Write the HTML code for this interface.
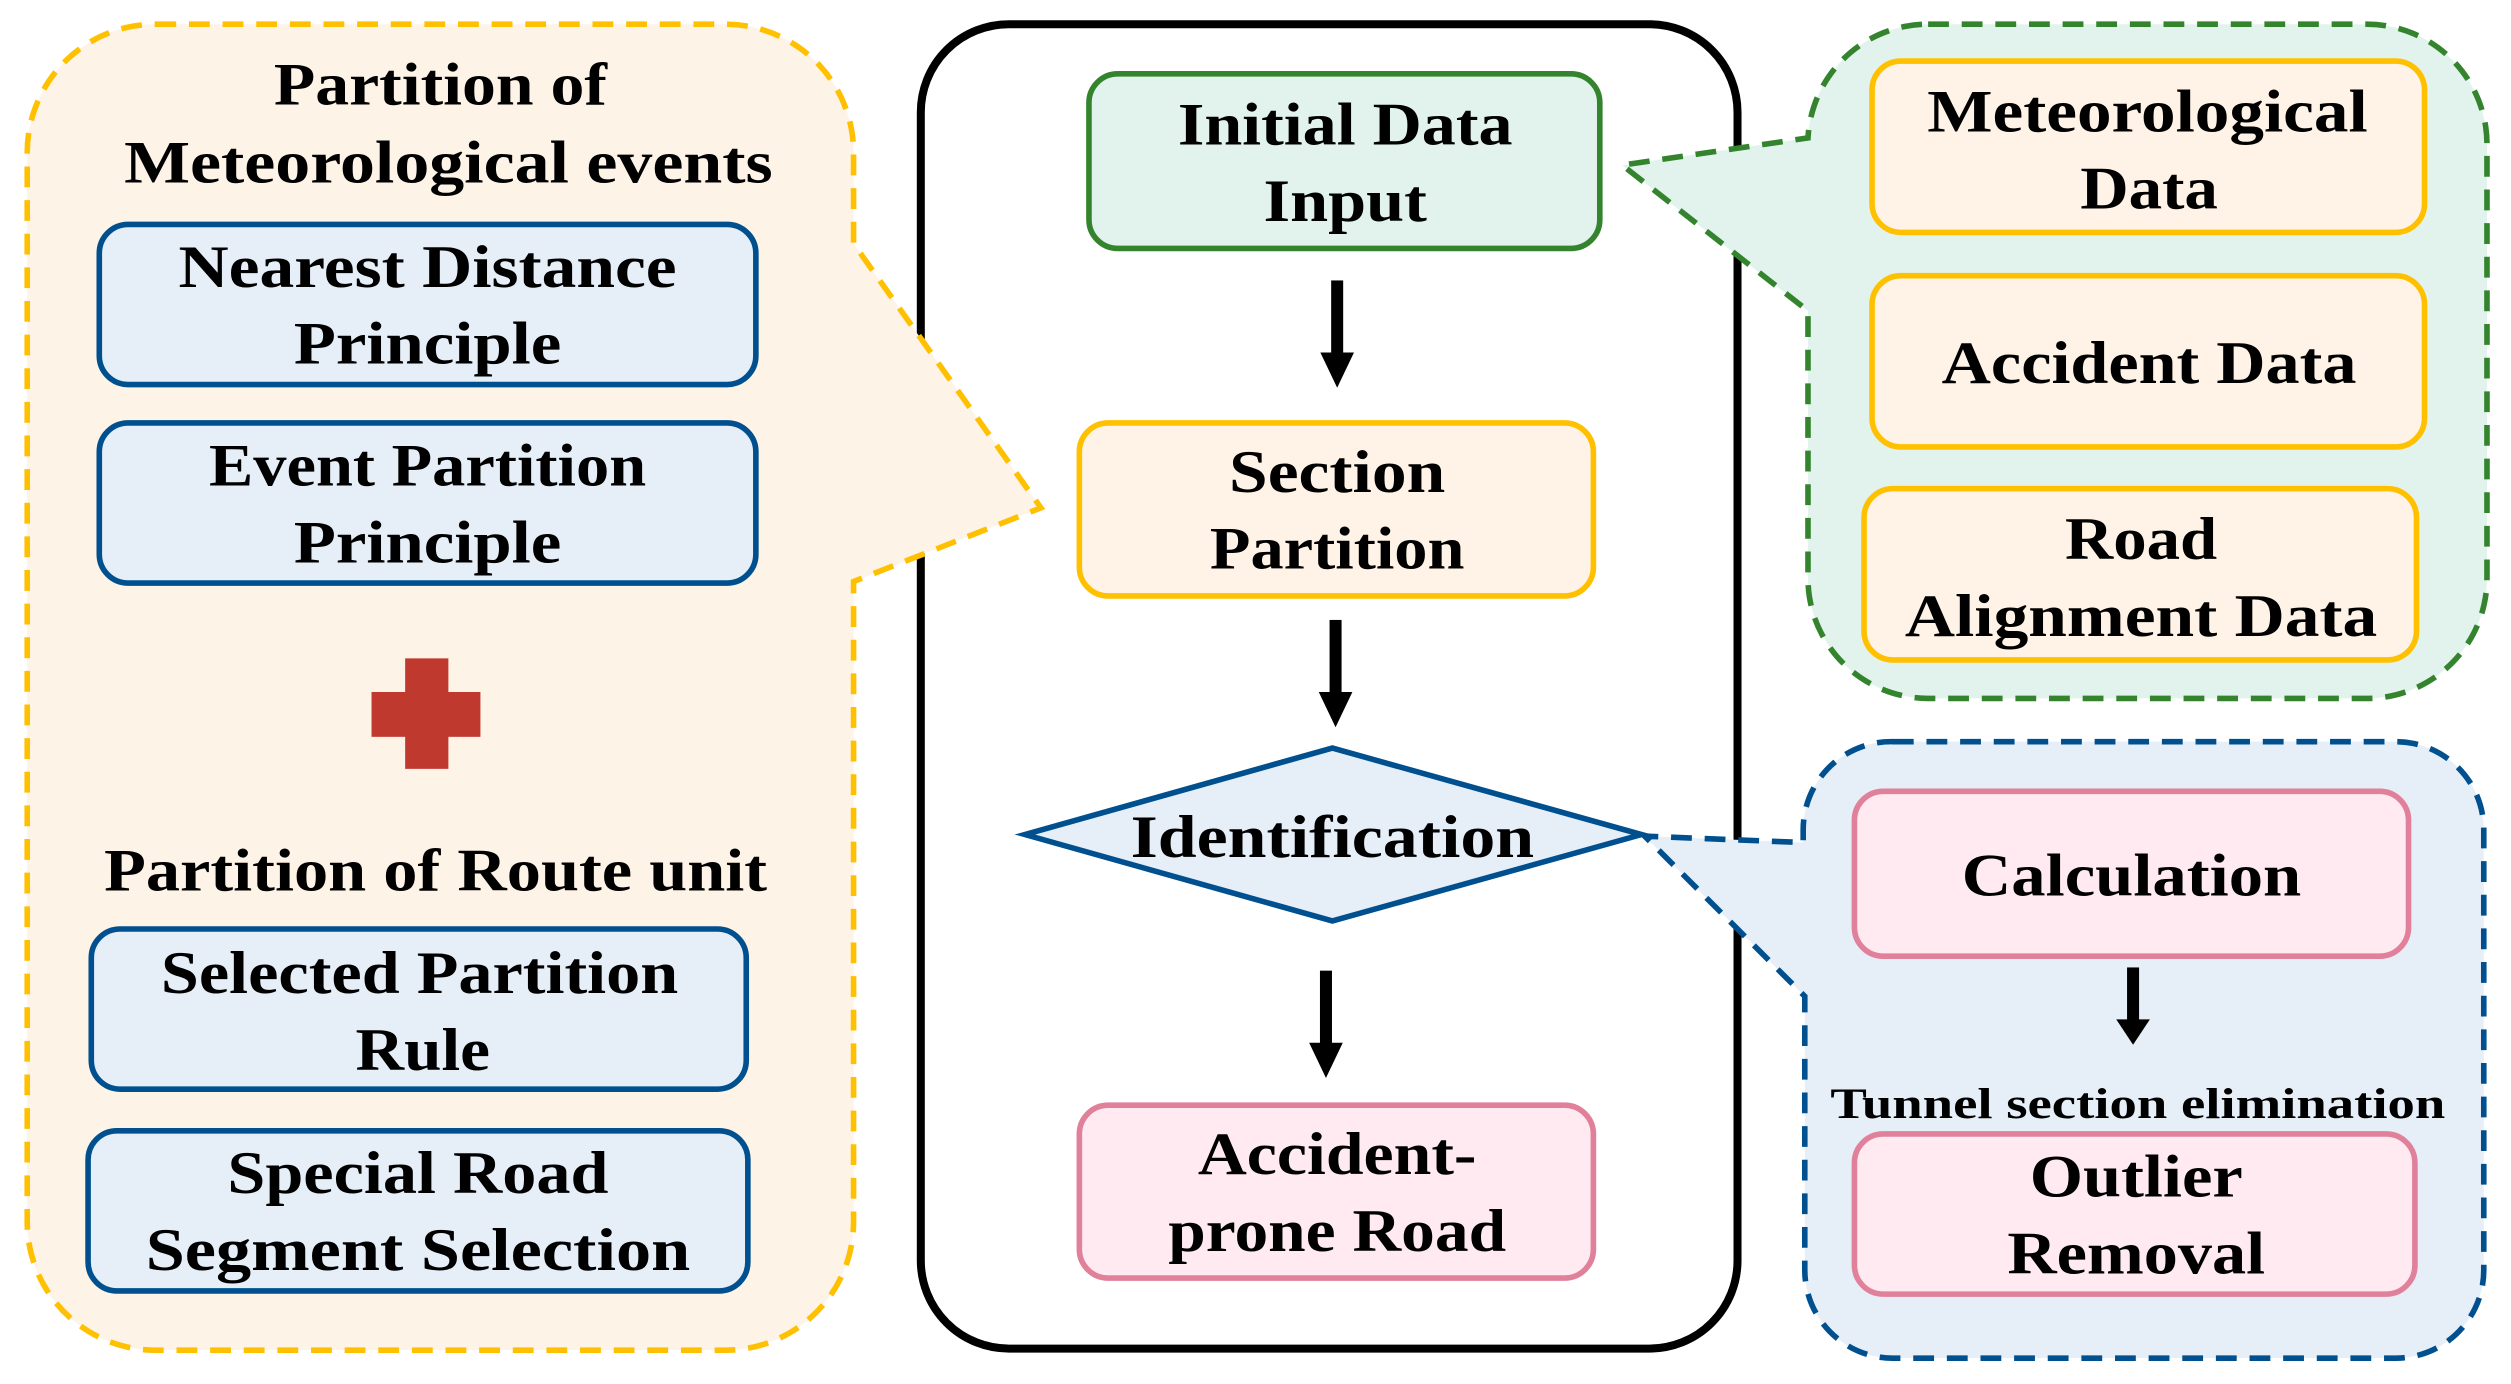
<!DOCTYPE html>
<html><head><meta charset="utf-8"><style>
html,body{margin:0;padding:0;background:#fff;}
svg{display:block;}
text{font-family:"Liberation Serif",serif;font-weight:bold;fill:#000;text-anchor:middle;}
</style></head><body>
<svg width="2511" height="1384" viewBox="0 0 1568 864" xmlns="http://www.w3.org/2000/svg">
<defs>
<g id="arr"><rect x="-3.75" y="0" width="7.5" height="46" fill="#000"/><polygon points="-10.5,45 10.5,45 0,67" fill="#000"/></g>
</defs>
<!-- center box first -->
<rect x="575" y="15" width="510" height="827" rx="55" fill="none" stroke="#000" stroke-width="5"/>
<!-- left callout -->
<path d="M97,15 H453 A80,80 0 0 1 533,95 V152 L650,317 L533,363 V763 A80,80 0 0 1 453,843 H97 A80,80 0 0 1 17,763 V95 A80,80 0 0 1 97,15 Z" fill="#FEF3E7" stroke="#FFC000" stroke-width="3.5" stroke-dasharray="13,8"/>
<text x="275" y="65" font-size="38" textLength="208" lengthAdjust="spacingAndGlyphs">Partition of</text>
<text x="280" y="114" font-size="38" textLength="405" lengthAdjust="spacingAndGlyphs">Meteorological events</text>
<rect x="62" y="140" width="410" height="100" rx="18" fill="#E6EEF8" stroke="#00508F" stroke-width="3.5"/>
<text x="267" y="179" font-size="38" textLength="311" lengthAdjust="spacingAndGlyphs">Nearest Distance</text>
<text x="267" y="227" font-size="38" textLength="167" lengthAdjust="spacingAndGlyphs">Principle</text>
<rect x="62" y="264" width="410" height="100" rx="18" fill="#E6EEF8" stroke="#00508F" stroke-width="3.5"/>
<text x="267" y="303" font-size="38" textLength="273" lengthAdjust="spacingAndGlyphs">Event Partition</text>
<text x="267" y="351" font-size="38" textLength="167" lengthAdjust="spacingAndGlyphs">Principle</text>
<rect x="232" y="432" width="68" height="28" fill="#C0392F"/>
<rect x="253" y="411" width="27" height="69" fill="#C0392F"/>
<text x="272" y="556" font-size="38" textLength="414" lengthAdjust="spacingAndGlyphs">Partition of Route unit</text>
<rect x="57" y="580" width="409" height="100" rx="18" fill="#E6EEF8" stroke="#00508F" stroke-width="3.5"/>
<text x="262" y="620" font-size="38" textLength="323" lengthAdjust="spacingAndGlyphs">Selected Partition</text>
<text x="264" y="668" font-size="38" textLength="84" lengthAdjust="spacingAndGlyphs">Rule</text>
<rect x="55" y="706" width="412" height="100" rx="18" fill="#E6EEF8" stroke="#00508F" stroke-width="3.5"/>
<text x="261" y="745" font-size="38" textLength="238" lengthAdjust="spacingAndGlyphs">Special Road</text>
<text x="261" y="793" font-size="38" textLength="340" lengthAdjust="spacingAndGlyphs">Segment Selection</text>
<!-- green callout -->
<path d="M1204,15 H1478 A75,75 0 0 1 1553,90 V361 A75,75 0 0 1 1478,436 H1204 A75,75 0 0 1 1129,361 V194 L1013,103 L1129,86 A75,75 0 0 1 1204,15 Z" fill="#E2F3EE" stroke="#34842E" stroke-width="3.5" stroke-dasharray="13,8"/>
<rect x="680" y="46" width="319" height="109" rx="18" fill="#E2F3EE" stroke="#34842E" stroke-width="3.5"/>
<text x="840" y="90" font-size="38" textLength="209" lengthAdjust="spacingAndGlyphs">Initial Data</text>
<text x="840" y="138" font-size="38" textLength="102" lengthAdjust="spacingAndGlyphs">Input</text>
<use href="#arr" x="835" y="175"/>
<rect x="674" y="264" width="321" height="108" rx="18" fill="#FEF3E6" stroke="#FFC000" stroke-width="3.5"/>
<text x="835" y="307" font-size="38" textLength="135" lengthAdjust="spacingAndGlyphs">Section</text>
<text x="835" y="355" font-size="38" textLength="159" lengthAdjust="spacingAndGlyphs">Partition</text>
<use href="#arr" x="834" y="387"/>
<!-- blue callout -->
<path d="M1182,463 H1496 A55,55 0 0 1 1551,518 V793 A55,55 0 0 1 1496,848 H1182 A55,55 0 0 1 1127,793 V622 L1027,522 L1126,526 V518 A55,55 0 0 1 1182,463 Z" fill="#E6EEF8" stroke="#00508F" stroke-width="3.5" stroke-dasharray="13,8"/>
<polygon points="640,521 832,467 1025,521 832,575" fill="#E6EEF8" stroke="#00508F" stroke-width="3.5"/>
<text x="832" y="535" font-size="38" textLength="252" lengthAdjust="spacingAndGlyphs">Identification</text>
<use href="#arr" x="828" y="606"/>
<rect x="674" y="690" width="321" height="108" rx="18" fill="#FEEAF0" stroke="#E0809A" stroke-width="3.5"/>
<text x="835" y="733" font-size="38" textLength="174" lengthAdjust="spacingAndGlyphs">Accident-</text>
<text x="835" y="781" font-size="38" textLength="211" lengthAdjust="spacingAndGlyphs">prone Road</text>
<!-- right boxes -->
<rect x="1169" y="38" width="345" height="107" rx="18" fill="#FEF3E6" stroke="#FFC000" stroke-width="3.5"/>
<text x="1341" y="82" font-size="38" textLength="275" lengthAdjust="spacingAndGlyphs">Meteorological</text>
<text x="1342" y="130" font-size="38" textLength="86" lengthAdjust="spacingAndGlyphs">Data</text>
<rect x="1169" y="172" width="345" height="107" rx="18" fill="#FEF3E6" stroke="#FFC000" stroke-width="3.5"/>
<text x="1342" y="239" font-size="38" textLength="259" lengthAdjust="spacingAndGlyphs">Accident Data</text>
<rect x="1164" y="305" width="345" height="107" rx="18" fill="#FEF3E6" stroke="#FFC000" stroke-width="3.5"/>
<text x="1337" y="349" font-size="38" textLength="95" lengthAdjust="spacingAndGlyphs">Road</text>
<text x="1337" y="397" font-size="38" textLength="295" lengthAdjust="spacingAndGlyphs">Alignment Data</text>
<rect x="1158" y="494" width="346" height="103" rx="18" fill="#FEEAF0" stroke="#E0809A" stroke-width="3.5"/>
<text x="1331" y="559" font-size="38" textLength="212" lengthAdjust="spacingAndGlyphs">Calculation</text>
<g transform="translate(1332,604) scale(1,0.72)"><use href="#arr"/></g>
<text x="1335" y="698" font-size="27" textLength="384" lengthAdjust="spacingAndGlyphs">Tunnel section elimination</text>
<rect x="1158" y="708" width="350" height="100" rx="18" fill="#FEEAF0" stroke="#E0809A" stroke-width="3.5"/>
<text x="1334" y="747" font-size="38" textLength="133" lengthAdjust="spacingAndGlyphs">Outlier</text>
<text x="1334" y="795" font-size="38" textLength="161" lengthAdjust="spacingAndGlyphs">Removal</text>
</svg>
</body></html>
